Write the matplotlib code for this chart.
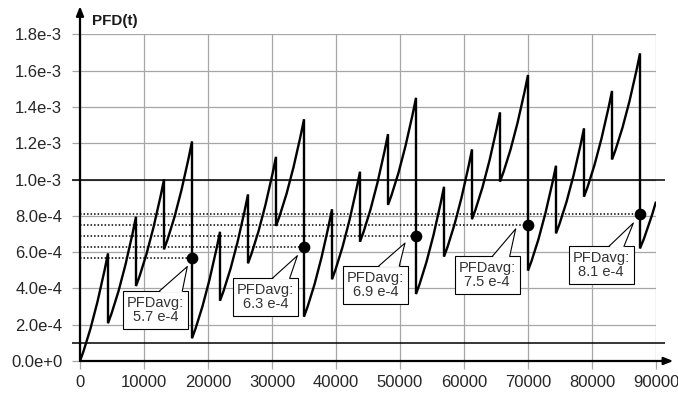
import matplotlib
matplotlib.use("Agg")
import matplotlib.pyplot as plt
import matplotlib.transforms as mtransforms
from matplotlib.path import Path
from matplotlib.patches import PathPatch, Rectangle, Polygon
from matplotlib.lines import Line2D

plt.rcParams["font.family"] = ["Liberation Sans", "DejaVu Sans"]

# PFD(t) between tests: each segment has start / middle / end value
seg_t0 = [0, 4375, 8750, 13125, 17500, 21875, 26250, 30625, 35000, 39375, 43750,
          48125, 52500, 56875, 61250, 65625, 70000, 74375, 78750, 83125, 87500]
seg_t1 = [4375, 8750, 13125, 17500, 21875, 26250, 30625, 35000, 39375, 43750, 48125,
          52500, 56875, 61250, 65625, 70000, 74375, 78750, 83125, 87500, 90000]
seg_v0 = [0.0, 2.08e-4, 4.13e-4, 6.15e-4, 1.25e-4, 3.32e-4, 5.38e-4, 7.44e-4,
          2.44e-4, 4.50e-4, 6.57e-4, 8.60e-4, 3.69e-4, 5.75e-4, 7.81e-4, 9.88e-4,
          4.98e-4, 7.03e-4, 9.05e-4, 1.11e-3, 6.20e-4]
seg_vm = [2.50e-4, 4.55e-4, 6.60e-4, 8.65e-4, 3.72e-4, 5.78e-4, 7.85e-4, 9.91e-4,
          4.93e-4, 6.99e-4, 9.06e-4, 1.108e-3, 6.17e-4, 8.23e-4, 1.028e-3, 1.235e-3,
          7.41e-4, 9.46e-4, 1.150e-3, 1.356e-3, 7.36e-4]
seg_v1 = [5.93e-4, 7.95e-4, 1.00e-3, 1.21e-3, 7.12e-4, 9.18e-4, 1.125e-3, 1.332e-3,
          8.36e-4, 1.043e-3, 1.25e-3, 1.45e-3, 9.60e-4, 1.166e-3, 1.37e-3, 1.576e-3,
          1.076e-3, 1.282e-3, 1.488e-3, 1.695e-3, 8.78e-4]

avg_t = [17500, 35000, 52500, 70000, 87500]
avg_v = [5.7e-4, 6.3e-4, 6.9e-4, 7.5e-4, 8.1e-4]
avg_labels = ["PFDavg:\n5.7 e-4", "PFDavg:\n6.3 e-4", "PFDavg:\n6.9 e-4",
              "PFDavg:\n7.5 e-4", "PFDavg:\n8.1 e-4"]

limit_lines = [1e-4, 1e-3]

x_ticks = [0, 10000, 20000, 30000, 40000, 50000, 60000, 70000, 80000, 90000]
y_ticks = [0, 2e-4, 4e-4, 6e-4, 8e-4, 1e-3, 1.2e-3, 1.4e-3, 1.6e-3, 1.8e-3]
y_ticklabels = ["0.0e+0", "2.0e-4", "4.0e-4", "6.0e-4", "8.0e-4", "1.0e-3",
                "1.2e-3", "1.4e-3", "1.6e-3", "1.8e-3"]

# callout layout in pixels relative to the dot: box left, box top, tail base, tail tip
callout_layout = [
    (-69.0, -33.4, (-32.4, -9.7), (-4.7, -9.0)),
    (-71.0, -31.6, (-31.6, -14.3), (-6.6, -9.0)),
    (-72.7, -30.0, (-37.0, -16.7), (-11.0, -7.3)),
    (-73.3, -31.4, (-35.6, -18.3), (-12.3, -4.0)),
    (-71.3, -32.3, (-31.0, -16.0), (-6.6, -9.0)),
]
BOX_W, BOX_H = 65, 38
GRID = "#a6a6a6"
TEXT = "#262626"

fig = plt.figure(figsize=(6.78, 3.96), dpi=100)
ax = fig.add_axes([80 / 678, 35 / 396, 576 / 678, 326.7 / 396])
ax.set_xlim(0, 90000)
ax.set_ylim(0, 1.8e-3)
for s in ax.spines.values():
    s.set_visible(False)

ax.set_xticks(x_ticks)
ax.set_xticklabels([str(x) for x in x_ticks])
ax.set_yticks(y_ticks)
ax.set_yticklabels(y_ticklabels)
ax.tick_params(axis="both", length=5.8, width=0.9, color=GRID,
               labelsize=12, labelcolor=TEXT)
ax.tick_params(axis="x", pad=4)
ax.tick_params(axis="y", pad=7)
ax.set_axisbelow(True)
ax.grid(True, color=GRID, lw=0.9)

# black limit lines running a bit past the plot area
ax.hlines(limit_lines, -1250, 91400, colors="k", lw=1.1, clip_on=False, zorder=2)

# axes with arrows
arrow = dict(arrowstyle="-|>,head_length=0.55,head_width=0.22", color="k",
             lw=1.6, shrinkA=0, shrinkB=0)
ax.annotate("", xy=(92700, 0), xytext=(0, 0), arrowprops=arrow,
            annotation_clip=False, zorder=3)
ax.annotate("", xy=(0, 1.955e-3), xytext=(0, 0), arrowprops=arrow,
            annotation_clip=False, zorder=3)

# dotted average levels up to each full test
ax.hlines(avg_v, 0, avg_t, colors="k", linestyles=(0, (1, 1.3)), lw=1.1, zorder=3)

# the saw-tooth curve
verts, codes = [], []
for i in range(len(seg_t0)):
    t0, t1 = seg_t0[i], seg_t1[i]
    v0, vm, v1 = seg_v0[i], seg_vm[i], seg_v1[i]
    tm = (t0 + t1) / 2
    verts.append((t0, v0))
    codes.append(Path.MOVETO if i == 0 else Path.LINETO)
    verts += [(tm, 2 * vm - (v0 + v1) / 2), (t1, v1)]
    codes += [Path.CURVE3, Path.CURVE3]
ax.add_patch(PathPatch(Path(verts, codes), fill=False, ec="k", lw=1.7,
                       joinstyle="miter", zorder=4))

ax.plot(avg_t, avg_v, "o", color="k", ms=7.4, zorder=6)

# callouts
for t, v, label, (bx, by, base, tip) in zip(avg_t, avg_v, avg_labels, callout_layout):
    tr = mtransforms.ScaledTranslation(t, v, ax.transData)
    ax.add_patch(Rectangle((bx, by - BOX_H), BOX_W, BOX_H, transform=tr,
                           fc="white", ec="k", lw=0.8, zorder=7, clip_on=False))
    ax.add_patch(Polygon([(base[0], by - 1.2), tip, (base[1], by - 1.2)],
                         closed=True, transform=tr, fc="white", ec="none",
                         zorder=8, clip_on=False))
    ax.add_line(Line2D([base[0], tip[0], base[1]], [by, tip[1], by], transform=tr,
                       color="k", lw=0.8, zorder=9, clip_on=False))
    ax.text(bx + BOX_W / 2, by - BOX_H / 2, label, transform=tr, ha="center",
            va="center", fontsize=10.5, color="#333333", linespacing=1.0, zorder=9)

fig.text(92 / 678, 1 - 21.5 / 396, "PFD(t)", fontsize=11, fontweight="bold",
         color="#1a1a1a", va="center")

fig.savefig("out.png", dpi=100)
plt.close(fig)
